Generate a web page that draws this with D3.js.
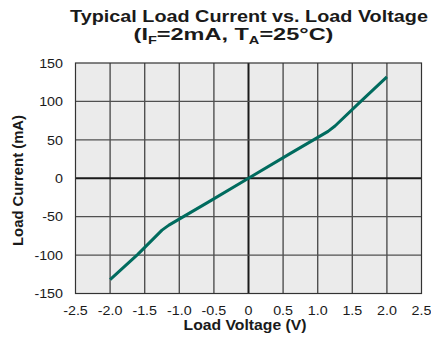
<!DOCTYPE html>
<html>
<head>
<meta charset="utf-8">
<script src="https://cdn.jsdelivr.net/npm/d3@7"></script>
<style>
  html, body { margin: 0; padding: 0; background: #fff; }
  svg text { font-family: "Liberation Sans", Arial, Helvetica, sans-serif; fill: #1a1a1a; }
</style>
</head>
<body>
<svg id="chart" width="431" height="343"></svg>
<script>
// Load voltage (V) and load current (mA)
const voltage = [-2.0, -1.6, -1.25, -1.15, -0.6, 0, 0.6, 1.15, 1.25, 1.6, 2.0];
const current = [-132, -99, -67.5, -61, -32, 0, 32, 61, 68, 98, 132];

const xTicks = [-2.5, -2.0, -1.5, -1.0, -0.5, 0, 0.5, 1.0, 1.5, 2.0, 2.5];
const xTickLabels = ["-2.5", "-2.0", "-1.5", "-1.0", "-0.5", "0", "0.5", "1.0", "1.5", "2.0", "2.5"];
const yTicks = [-150, -100, -50, 0, 50, 100, 150];
const yTickLabels = ["-150", "-100", "-50", "0", "50", "100", "150"];

const svg = d3.select("#chart");
const plot = { left: 75.5, right: 421.5, top: 63, bottom: 293.5 };

const x = d3.scaleLinear().domain([-2.5, 2.5]).range([plot.left, plot.right]);
const y = d3.scaleLinear().domain([-150, 150]).range([plot.bottom, plot.top]);

// Horizontal stretch factor that makes a text span the wanted width
function fit(g, width) {
  const t = g.select("text").node();
  const w = t.getComputedTextLength();
  return width / w;
}

// plot background
svg.append("rect")
  .attr("x", plot.left).attr("y", plot.top)
  .attr("width", plot.right - plot.left).attr("height", plot.bottom - plot.top)
  .attr("fill", "#ebebeb");

// grid
const grid = svg.append("g");
grid.selectAll("line.v")
  .data(xTicks.filter(d => d > -2.5 && d < 2.5))
  .join("line")
  .attr("x1", d => x(d)).attr("x2", d => x(d))
  .attr("y1", plot.top).attr("y2", plot.bottom)
  .attr("stroke", d => d === 0 ? "#1a1a1a" : "#505050")
  .attr("stroke-width", d => d === 0 ? 2 : 1.4);
grid.selectAll("line.h")
  .data(yTicks.filter(d => d > -150 && d < 150))
  .join("line")
  .attr("y1", d => y(d)).attr("y2", d => y(d))
  .attr("x1", plot.left).attr("x2", plot.right)
  .attr("stroke", d => d === 0 ? "#1a1a1a" : "#505050")
  .attr("stroke-width", d => d === 0 ? 2 : 1.4);

// frame
svg.append("rect")
  .attr("x", plot.left).attr("y", plot.top)
  .attr("width", plot.right - plot.left).attr("height", plot.bottom - plot.top)
  .attr("fill", "none").attr("stroke", "#333").attr("stroke-width", 1.2);

// curve
const pts = voltage.map((v, i) => [v, current[i]]);
svg.append("path")
  .datum(pts)
  .attr("fill", "none")
  .attr("stroke", "#006b5e")
  .attr("stroke-width", 3)
  .attr("stroke-linejoin", "round")
  .attr("d", d3.line().x(d => x(d[0])).y(d => y(d[1])));

// tick labels
const sx = 1.1;
yTicks.forEach((d, i) => {
  svg.append("text")
    .attr("transform", `translate(63,${y(d) + 4.7}) scale(${sx},1)`)
    .attr("text-anchor", "end")
    .attr("font-size", 13)
    .text(yTickLabels[i]);
});
xTicks.forEach((d, i) => {
  svg.append("text")
    .attr("transform", `translate(${x(d)},314.5) scale(${sx},1)`)
    .attr("text-anchor", "middle")
    .attr("font-size", 13)
    .text(xTickLabels[i]);
});

// titles
function label(cx, cy, size, width, parts, rotate) {
  const g = svg.append("g");
  const t = g.append("text").attr("text-anchor", "middle")
    .attr("font-size", size).attr("font-weight", "bold");
  parts.forEach(p => {
    const s = t.append("tspan").text(p.text);
    if (p.sub) s.attr("font-size", size * 0.62).attr("dy", size * 0.25);
    if (p.up) s.attr("dy", -size * 0.25);
  });
  const k = fit(g, width);
  g.attr("transform", `translate(${cx},${cy})${rotate ? " rotate(-90)" : ""} scale(${k},1)`);
}

label(249, 21.5, 16.5, 358, [{ text: "Typical Load Current vs. Load Voltage" }]);
label(233.5, 39.5, 17, 200, [
  { text: "(I" }, { text: "F", sub: true }, { text: "=2mA, T", up: true },
  { text: "A", sub: true }, { text: "=25°C)", up: true }
]);
label(245, 330, 14.5, 123, [{ text: "Load Voltage (V)" }]);
label(23, 180.5, 14.5, 131, [{ text: "Load Current (mA)" }], true);
</script>
</body>
</html>
